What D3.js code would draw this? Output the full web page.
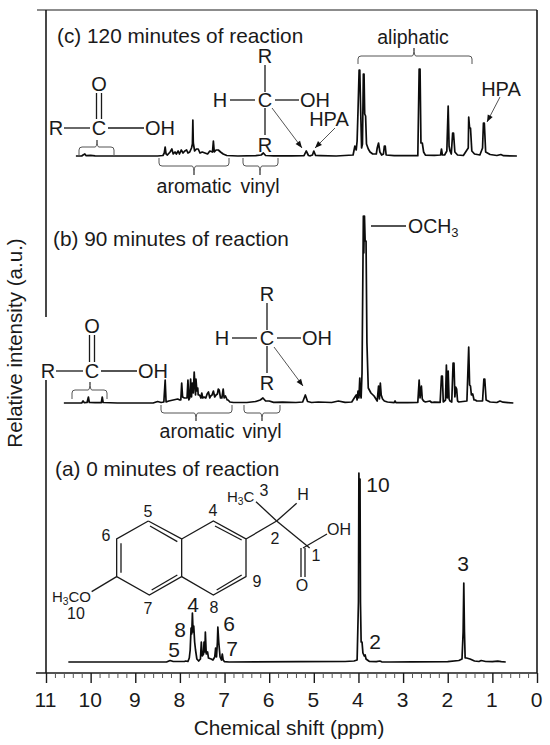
<!DOCTYPE html>
<html><head><meta charset="utf-8">
<script src="https://cdn.jsdelivr.net/npm/d3@7/dist/d3.min.js"></script>
<style>html,body{margin:0;padding:0;background:#fff}svg{display:block}text{font-family:"Liberation Sans",Arial,sans-serif;fill:#1a1a1a}</style>
</head><body><div id="chart"></div>
<script>
// ---- data: [ppm, intensity above the spectrum's baseline] ----
const xTicks = [11,10,9,8,7,6,5,4,3,2,1,0];
const baselines = {a:11, b:270, c:517};

const spectrumA = [[10.5,0],[8.3,0],[8.22,1.5],[8.15,.5],[7.9,.5],[7.87,1],[7.82,.5],[7.79,4],[7.77,12],[7.75,34],[7.735,28],[7.72,49],[7.705,30],[7.69,36],[7.67,20],[7.65,12],[7.62,3],[7.58,1],[7.54,3],[7.52,20],[7.5,6],[7.47,8],[7.46,20],[7.44,10],[7.43,30],[7.41,8],[7.38,10],[7.36,4],[7.3,3],[7.26,2],[7.22,5],[7.2,14],[7.18,5],[7.16,20],[7.15,35],[7.13,20],[7.1,5],[7.07,2],[7.05,8],[7.03,2],[7,.3],[6.9,0],[5.3,.3],[4.3,.5],[4.1,1],[4.03,2],[4,60],[3.99,189],[3.98,120],[3.965,183],[3.955,60],[3.94,20],[3.92,20],[3.9,9],[3.87,6],[3.85,7],[3.83,3],[3.8,2],[3.76,.7],[3.6,.3],[3.52,1],[3.48,.2],[3.3,0],[2.8,.2],[2,.3],[1.75,1.5],[1.68,3],[1.655,30],[1.64,79],[1.625,30],[1.61,4],[1.58,4],[1.5,3],[1.4,1],[1.3,.5],[1.25,1.5],[1.15,.5],[1,.3],[.88,.8],[.8,.3],[.7,0]];

const spectrumB = [[10.6,0],[10.3,0],[10.2,0],[10.17,2],[10.14,.3],[10.08,.5],[10.05,6],[10.03,.5],[9.9,.3],[9.76,.4],[9.74,6],[9.72,.5],[9.4,0],[8.6,0],[8.5,1.5],[8.42,.5],[8.36,1],[8.33,23],[8.31,1],[8.25,2],[8.15,3],[8.05,4],[8,3],[7.98,3],[7.96,20],[7.94,6],[7.9,5],[7.84,5],[7.82,23],[7.8,3],[7.78,5],[7.76,24],[7.74,6],[7.72,20],[7.7,10],[7.68,31],[7.65,8],[7.64,24],[7.62,12],[7.6,15],[7.59,8],[7.56,8],[7.53,5],[7.51,10],[7.49,5],[7.46,6],[7.42,5],[7.39,9],[7.36,11],[7.33,5],[7.31,7],[7.28,8],[7.25,12],[7.22,6],[7.19,8],[7.16,9],[7.14,14],[7.12,13],[7.09,5],[7.06,5],[7.03,14],[7.01,5],[6.98,7],[6.94,3],[6.92,3],[6.88,1],[6.8,.5],[6.5,.5],[6.3,1.5],[6.2,3],[6.14,5],[6.08,2],[6,2],[5.9,.6],[5.7,.8],[5.4,.5],[5.25,1],[5.19,8],[5.14,1.5],[5.05,.5],[4.9,1],[4.6,.5],[4.45,2],[4.3,.6],[4.15,1],[4.08,6],[4.05,8],[4.03,3],[4.01,12],[3.99,5],[3.97,25],[3.96,10],[3.94,5],[3.92,30],[3.89,187],[3.88,150],[3.865,187],[3.85,162],[3.83,162],[3.81,60],[3.78,15],[3.72,10],[3.65,7],[3.58,2],[3.55,17],[3.53,4],[3.51,20],[3.49,8],[3.46,4],[3.42,2],[3.35,1],[3.2,.4],[3.18,2],[3.16,.3],[2.9,.3],[2.67,.6],[2.64,23],[2.62,5],[2.59,17],[2.57,4],[2.54,2],[2.5,1],[2.4,2],[2.36,.5],[2.3,.8],[2.17,.6],[2.14,27],[2.12,27],[2.1,1],[2.05,3],[2.03,38],[2.01,5],[1.99,32],[1.97,4],[1.95,2],[1.91,1],[1.88,40],[1.86,40],[1.84,6],[1.82,16],[1.8,14],[1.78,2],[1.75,1],[1.57,2],[1.53,56],[1.51,18],[1.49,17],[1.47,8],[1.44,9],[1.41,3],[1.38,3],[1.35,2],[1.28,2],[1.22,2],[1.19,24],[1.17,24],[1.14,3],[1.05,1],[.9,.5],[.83,2],[.76,.8],[.65,.4],[.53,0]];

const spectrumC = [[10.33,0],[10.2,0],[10.17,1],[10.13,2],[10.1,.3],[10,.6],[9.9,.2],[9.5,0],[8.5,0],[8.38,.5],[8.35,3],[8.33,9],[8.31,2],[8.28,1],[8.22,4],[8.18,7],[8.15,2],[8.11,4],[8.08,2],[8.04,5],[8.01,2],[7.97,6],[7.93,3],[7.89,5],[7.85,6],[7.82,3],[7.78,4],[7.74,8],[7.72,12],[7.71,36],[7.7,13],[7.67,5],[7.63,7],[7.59,7],[7.55,3],[7.5,4],[7.44,3],[7.38,2],[7.33,5],[7.27,4],[7.25,15],[7.23,4],[7.19,6],[7.14,6],[7.09,4],[7.03,2],[6.95,.5],[6.7,0],[6.3,.3],[6.18,1],[6.13,3],[6.08,.5],[5.9,.2],[5.5,.1],[5.22,.3],[5.17,5],[5.12,.5],[5.08,.2],[5.03,1],[5,5],[4.96,.5],[4.85,.3],[4.5,0],[4.12,1],[4.08,10],[4.05,6],[4.03,15],[4.01,45],[3.985,86],[3.97,86],[3.95,45],[3.93,8],[3.91,12],[3.89,82],[3.875,82],[3.86,42],[3.84,40],[3.82,12],[3.78,7],[3.74,4],[3.68,2],[3.6,2],[3.58,8],[3.55,13],[3.52,4],[3.48,1],[3.44,2],[3.42,10],[3.4,10],[3.38,1],[3.2,.3],[2.67,.3],[2.64,87],[2.62,87],[2.6,13],[2.57,13],[2.54,4],[2.5,.8],[2.3,.6],[2.16,1],[2.14,7],[2.12,1],[2.07,1],[2.02,5],[1.99,50],[1.97,10],[1.95,5],[1.92,2],[1.89,23],[1.87,23],[1.84,4],[1.78,1],[1.65,.5],[1.57,6],[1.54,8],[1.53,39],[1.51,28],[1.49,28],[1.46,5],[1.4,2],[1.28,1],[1.22,8],[1.2,33],[1.18,33],[1.15,4],[1.05,1.5],[.9,.5],[.81,1.5],[.75,.3],[.45,0]];

const W = 550, H = 745;
const svg = d3.select('#chart').append('svg').attr('width',W).attr('height',H);
const x = d3.scaleLinear().domain([11,0]).range([46,537]);
const y = d3.scaleLinear().domain([0,663]).range([673,10]);
const INK = '#1a1a1a';

// ---- frame ----
const frame = svg.append('g').attr('stroke',INK).attr('fill','none').attr('stroke-width',1.6);
frame.append('line').attr('x1',37).attr('x2',x(0)).attr('y1',y(663)).attr('y2',y(663)).attr('stroke','#666');
frame.append('line').attr('x1',x(0)).attr('x2',x(0)).attr('y1',y(663)).attr('y2',y(0));
frame.append('line').attr('x1',x(11)).attr('x2',x(11)).attr('y1',y(663)).attr('y2',317);
frame.append('line').attr('x1',x(11)).attr('x2',x(11)).attr('y1',380).attr('y2',y(0));
frame.append('line').attr('x1',36).attr('x2',x(0)).attr('y1',y(0)).attr('y2',y(0));

// ---- axis ----
const axis = d3.axisBottom(x).tickValues(xTicks).tickSize(10).tickSizeOuter(0).tickFormat(d3.format('d'));
const gA = svg.append('g').attr('transform',`translate(0,${y(0)})`).call(axis);
gA.select('.domain').remove();
gA.selectAll('line').attr('stroke',INK).attr('stroke-width',1.4);
gA.selectAll('text').attr('y',0).attr('dy',0).attr('transform','translate(-1,34)').attr('font-size',21).style('fill',INK).attr('text-anchor','middle');
const minor = d3.axisBottom(x).tickValues(d3.range(0,55).map(i=>i*0.2).filter(v=>Math.abs(v-Math.round(v))>1e-6)).tickSize(5).tickFormat('');
const gM = svg.append('g').attr('transform',`translate(0,${y(0)})`).call(minor);
gM.select('.domain').remove();
gM.selectAll('line').attr('stroke','#555').attr('stroke-width',1);

svg.append('text').attr('x',289).attr('y',735).attr('text-anchor','middle').attr('font-size',20.8).text('Chemical shift (ppm)');
svg.append('text').attr('transform','translate(22,343) rotate(-90)').attr('text-anchor','middle').attr('font-size',20.6).text('Relative intensity (a.u.)');

// ---- spectra ----
const line = base => d3.line().x(d=>x(d[0])).y(d=>y(d[1]+base));
[[spectrumA,baselines.a],[spectrumB,baselines.b],[spectrumC,baselines.c]].forEach(([s,b])=>{
  svg.append('path').datum(s).attr('fill','none').attr('stroke','#0c0c0c').attr('stroke-width',1.7).attr('stroke-linejoin','round').attr('d',line(b));
});

// ---- annotations ----
const ann = svg.append('g');
function T(s,px,py,size,anchor='middle'){ return ann.append('text').attr('x',px).attr('y',py).attr('font-size',size).attr('text-anchor',anchor).text(s); }
function L(pts,w=1.3,c=INK){ ann.append('path').attr('d',d3.line()(pts)).attr('fill','none').attr('stroke',c).attr('stroke-width',w); }
function bracket(x0,x1,y0,y1,ys,xs){
  const r=3, s=y1<y0?1:-1;
  ann.append('path').attr('fill','none').attr('stroke','#555').attr('stroke-width',1)
   .attr('d',`M${x0},${y0}L${x0},${y1+s*r}Q${x0},${y1} ${x0+r},${y1}L${xs-2},${y1}Q${xs},${y1} ${xs},${ys}Q${xs},${y1} ${xs+2},${y1}L${x1-r},${y1}Q${x1},${y1} ${x1},${y1+s*r}L${x1},${y0}`);
}
function arrow(x0,y0,x1,y1,c='#555'){
  L([[x0,y0],[x1,y1]],1,c);
  const a=Math.atan2(y1-y0,x1-x0),l=7,w=2.8;
  const b=[x1-l*Math.cos(a),y1-l*Math.sin(a)];
  ann.append('path').attr('fill','#111').attr('d',d3.line()([[x1,y1],[b[0]-w*Math.sin(a),b[1]+w*Math.cos(a)],[b[0]+w*Math.sin(a),b[1]-w*Math.cos(a)]])+'Z');
}
function acid(rx,cx,ox,oy,cy){
  const F=20;
  T('R',rx,cy+7,F);T('C',cx,cy+7,F);T('O',cx,oy+7,F);T('OH',ox,cy+7,F);
  L([[rx+8,cy],[cx-9,cy]]);L([[cx+9,cy],[ox-16,cy]]);
  L([[cx-2.5,oy+9],[cx-2.5,cy-9]]);L([[cx+2.5,oy+9],[cx+2.5,cy-9]]);
}
function carbinol(cx,cy,oh){
  const F=20;
  T('R',cx,cy-37,F);T('C',cx,cy+7,F);T('H',cx-45,cy+7,F);T('OH',oh,cy+7,F);T('R',cx,cy+52,F);
  L([[cx,cy-35],[cx,cy-8]]);L([[cx,cy+8],[cx,cy+35]]);
  L([[cx-35,cy],[cx-10,cy]]);L([[cx+10,cy],[oh-16,cy]]);
}

// panel c
T('(c) 120 minutes of reaction',57,43,20.8,'start');
acid(56,99,160,84,128);
bracket(79,114,156,147,140,97);
bracket(159,229,158,166,175,194);
bracket(243,278,158,166,175,260);
T('aromatic',194,193,19.5);T('vinyl',260,193,19.5);
carbinol(265,100,315);
arrow(272,108,302,148);
T('HPA',329,126,20);arrow(335,128,315,148);
T('HPA',501,96,20);arrow(500,97,487,122);
T('aliphatic',413,44,19.5);
bracket(358,472,64,56,48,414);

// panel b
T('(b) 90 minutes of reaction',53,246,20.8,'start');
acid(48,92,153,326,371);
bracket(72,107,399,390,382,90);
bracket(161,232,405,413,421,196);
bracket(244,280,405,413,421,262);
T('aromatic',197,438,19.5);T('vinyl',262,438,19.5);
carbinol(267,338,317);
arrow(274,347,303,386);
L([[371,226],[406,226]]);
const och = T('OCH',408,233,19.5,'start');
och.append('tspan').attr('font-size',13).attr('dy',4).text('3');

// panel a
T('(a) 0 minutes of reaction',55,476,20.8,'start');
const P=(a,b)=>[20+a/3,450+b/3];
[[[385,213],[290,267],[290,380],[388,435],[485,380],[485,267],[385,213]],
 [[485,267],[580,213],[678,267],[678,380],[580,435],[485,380]],
 [[303,280],[303,368]],[[390,228],[472,275]],[[395,420],[472,375]],[[585,228],[665,270]],[[590,420],[665,375]],
 [[678,267],[770,213]],[[770,213],[708,155]],[[770,213],[830,160]],[[770,213],[869,294]],
 [[290,380],[215,425]]
].forEach(l=>L(l.map(q=>P(q[0],q[1]))));
L([[301,548],[301,577]]);L([[305,548],[305,577]]);L([[303,548],[327,534]]);
function sub(a,b,c,px,py,s,anchor){const t=T(a,px,py,s,anchor);t.append('tspan').attr('font-size',s*0.68).attr('dy',3).text(b);t.append('tspan').attr('dy',-3).text(c);}
sub('H','3','CO',52,602,15,'start');
sub('H','3','C',227,502,15,'start');
[['10',76,619],['5',148,517],['4',213,516],['6',106,541],['7',148,614],['8',214,613],['9',257,587],['2',275,544],['3',264,496],['H',303,500],['OH',339,535],['1',316,561],['O',302,591]].forEach(d=>T(d[0],d[1],d[2],16));
[['4',193,612],['8',180,637],['5',174,657],['6',229,631],['7',232,656],['10',378,492],['2',375,649],['3',463,571]].forEach(d=>T(d[0],d[1],d[2],21));
</script></body></html>
